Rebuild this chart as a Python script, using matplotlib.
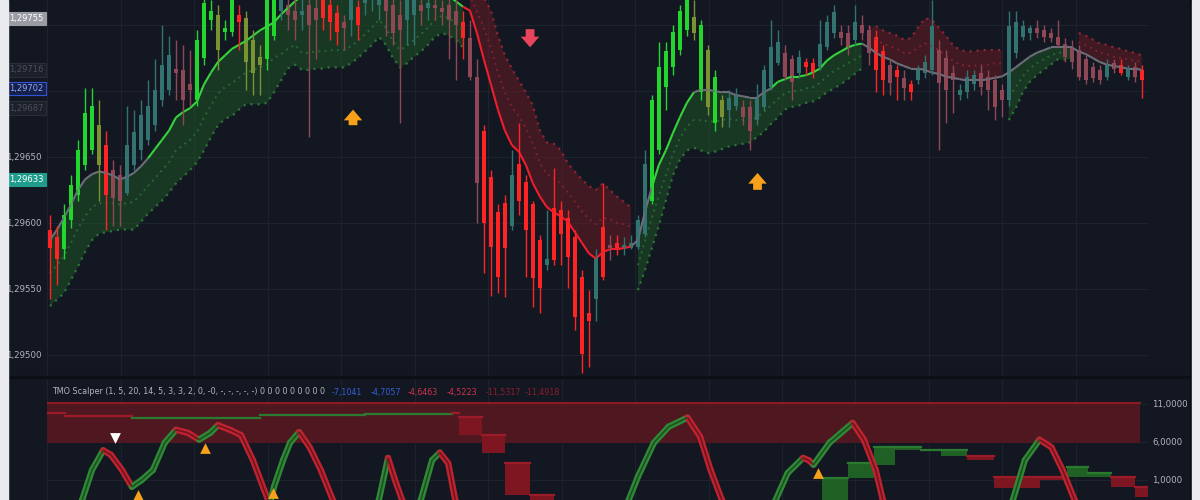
import numpy as np
import matplotlib.pyplot as plt
from matplotlib.collections import LineCollection
from matplotlib.patches import Rectangle

# prices are kept in 0.00001 steps above 1.29000 (so 650 -> 1.29650)
BASE = 1.29

open_pts = [
    595, 589, 580, 602, 621, 644, 655, 674, 659, 640,
    636, 623, 644, 655, 663, 674, 693, 701, 714, 716,
    705, 693, 725, 754, 758, 745, 745, 758, 722, 739,
    726, 724, 742, 761, 765, 761, 758, 765, 763, 769,
    765, 759, 752, 754, 764, 767, 769, 765, 769, 765,
    746, 754, 758, 765, 763, 765, 763, 765, 761, 752,
    740, 711, 670, 635, 608, 615, 598, 645, 631, 614,
    587, 568, 611, 610, 604, 589, 559, 532, 542, 597,
    583, 585, 580, 581, 582, 592, 617, 655, 703, 718,
    731, 746, 756, 750, 731, 711, 693, 686, 689, 688,
    688, 678, 688, 703, 721, 729, 724, 714, 722, 721,
    718, 733, 744, 745, 744, 739, 750, 746, 741, 730,
    720, 716, 710, 705, 708, 714, 716, 731, 725, 714,
    697, 699, 705, 714, 711, 708, 701, 693, 729, 741,
    744, 748, 746, 744, 741, 736, 733, 731, 724, 718,
    716, 711, 721, 720, 711, 718, 716]
close_pts = [
    581, 573, 606, 629, 655, 683, 689, 644, 621, 619,
    617, 659, 669, 682, 689, 701, 720, 727, 717, 693,
    701, 739, 767, 761, 731, 748, 769, 752, 755, 714,
    720, 769, 769, 773, 758, 754, 761, 750, 754, 755,
    752, 745, 748, 769, 750, 769, 773, 769, 761, 744,
    758, 769, 769, 761, 767, 763, 760, 754, 750, 740,
    711, 630, 600, 582, 559, 581, 636, 617, 595, 558,
    551, 573, 572, 592, 574, 529, 501, 526, 574, 559,
    581, 581, 583, 585, 602, 645, 693, 718, 730, 745,
    761, 769, 744, 699, 688, 676, 680, 695, 697, 680,
    670, 695, 716, 733, 737, 711, 707, 726, 718, 714,
    736, 752, 760, 740, 733, 752, 744, 729, 716, 708,
    706, 711, 702, 699, 716, 722, 749, 706, 701, 708,
    701, 711, 712, 703, 701, 688, 693, 749, 752, 749,
    748, 744, 741, 740, 735, 726, 722, 711, 708, 710,
    708, 720, 717, 714, 717, 711, 708]
high_pts = [
    606, 598, 614, 636, 663, 702, 702, 693, 670, 648,
    644, 689, 686, 693, 708, 724, 750, 742, 739, 735,
    731, 746, 777, 769, 765, 754, 777, 765, 761, 746,
    735, 777, 777, 780, 777, 769, 773, 773, 773, 777,
    773, 765, 758, 777, 769, 777, 780, 777, 777, 773,
    769, 777, 777, 773, 773, 773, 769, 773, 769, 761,
    754, 724, 674, 640, 614, 621, 655, 676, 636, 617,
    591, 610, 642, 617, 610, 595, 564, 549, 580, 630,
    591, 591, 589, 591, 606, 655, 697, 737, 737, 750,
    765, 773, 769, 754, 735, 716, 697, 701, 702, 693,
    693, 705, 720, 754, 746, 735, 727, 731, 725, 725,
    754, 758, 765, 750, 750, 765, 758, 750, 746, 735,
    724, 720, 716, 708, 720, 727, 769, 739, 731, 720,
    705, 716, 716, 720, 716, 712, 705, 761, 761, 754,
    750, 754, 750, 748, 754, 740, 739, 735, 727, 722,
    720, 724, 724, 724, 720, 722, 720]
low_pts = [
    542, 553, 573, 596, 617, 640, 652, 617, 595, 598,
    598, 621, 640, 648, 659, 670, 689, 697, 693, 674,
    689, 689, 720, 746, 716, 739, 742, 731, 701, 697,
    697, 716, 739, 754, 746, 739, 746, 665, 724, 746,
    739, 735, 731, 742, 739, 758, 761, 754, 742, 735,
    676, 735, 735, 750, 754, 754, 750, 724, 708, 724,
    708, 600, 562, 545, 547, 544, 595, 606, 559, 536,
    532, 564, 568, 568, 551, 519, 486, 491, 526, 557,
    572, 576, 576, 580, 580, 589, 614, 652, 686, 712,
    727, 742, 739, 693, 682, 670, 673, 673, 686, 674,
    655, 674, 686, 701, 720, 708, 693, 710, 712, 710,
    716, 731, 740, 735, 727, 735, 739, 720, 699, 697,
    697, 693, 693, 693, 705, 710, 712, 655, 676, 683,
    693, 695, 701, 697, 686, 678, 680, 689, 725, 739,
    739, 740, 737, 737, 733, 722, 717, 708, 705, 707,
    705, 708, 714, 712, 708, 707, 695]
# G bright bull, R bright bear, t muted teal, r muted red, o olive
candle_kind = ("RRGGGGGoRr" "rtttttttrr" "rGGGoGGRoo" "oGGtrrtrrR" "RRrtRtttrr"
               "rttrtrrrrR" "rrRRRRtRRR" "RtRRRRRRtR" "rRttttGGGG" "GGoGoGottr"
               "rttttrrtRR" "tttrrtrrRR" "rRrRtttrrr" "tttrrrrttt" "trrrrrrrrr"
               "rtrRtrR")

# trend band: base line, outer dotted edge, inner dotted line
mid_pts = [
    587, 595, 604, 614, 625, 633, 637, 639, 638, 636,
    633, 635, 638, 643, 649, 656, 663, 670, 680, 684,
    687, 692, 705, 714, 722, 727, 732, 735, 738, 742,
    746, 749, 752, 758, 763, 768, 772, 775, 778, 781,
    783, 785, 787, 789, 790, 791, 792, 792, 792, 791,
    790, 789, 787, 785, 782, 779, 776, 772, 768, 764,
    761, 744, 724, 705, 686, 670, 659, 654, 644, 630,
    620, 612, 608, 605, 601, 593, 585, 577, 573, 578,
    580, 580, 581, 582, 587, 608, 627, 644, 655, 668,
    680, 691, 699, 701, 701, 700, 699, 699, 697, 696,
    695, 695, 699, 702, 707, 709, 711, 711, 712, 714,
    717, 723, 727, 730, 733, 735, 736, 733, 729, 726,
    724, 721, 719, 717, 717, 716, 714, 713, 711, 710,
    709, 708, 708, 708, 709, 710, 711, 714, 718, 722,
    726, 729, 731, 733, 733, 733, 733, 730, 728, 725,
    722, 720, 719, 718, 717, 717, 716]
outer_pts = [
    537, 542, 547, 557, 567, 578, 587, 592, 593, 594,
    595, 595, 595, 601, 607, 612, 617, 623, 630, 635,
    640, 646, 655, 665, 674, 679, 681, 686, 690, 690,
    690, 691, 699, 708, 717, 720, 716, 716, 717, 717,
    718, 718, 718, 721, 725, 730, 735, 741, 735, 725,
    718, 721, 726, 730, 735, 741, 744, 742, 739, 733,
    785, 777, 771, 761, 742, 727, 717, 708, 699, 689,
    670, 661, 660, 655, 645, 639, 633, 628, 625, 630,
    625, 620, 616, 612, 549, 564, 581, 598, 617, 636,
    648, 655, 657, 655, 653, 654, 656, 658, 659, 660,
    661, 665, 669, 675, 680, 686, 688, 689, 691, 692,
    695, 699, 702, 705, 709, 713, 717, 748, 749, 746,
    744, 742, 739, 740, 748, 755, 754, 748, 742, 735,
    731, 730, 730, 731, 731, 731, 731, 678, 687, 699,
    707, 712, 716, 720, 724, 724, 724, 744, 742, 739,
    736, 735, 733, 732, 730, 729, 727]
inner_pts = [
    562, 568, 575, 585, 596, 605, 612, 615, 615, 615,
    614, 615, 616, 622, 628, 634, 640, 646, 655, 659,
    663, 669, 680, 689, 698, 703, 706, 710, 714, 716,
    718, 720, 725, 728, 732, 735, 729, 729, 730, 730,
    731, 731, 731, 734, 738, 743, 748, 754, 748, 738,
    731, 734, 739, 743, 748, 754, 757, 755, 752, 746,
    773, 760, 748, 733, 714, 699, 688, 681, 672, 660,
    645, 637, 634, 630, 623, 616, 609, 603, 599, 604,
    603, 600, 599, 597, 568, 586, 604, 621, 636, 652,
    664, 673, 678, 678, 677, 677, 678, 679, 678, 678,
    678, 680, 684, 689, 694, 698, 700, 700, 702, 703,
    706, 711, 715, 718, 721, 724, 727, 741, 739, 736,
    734, 732, 729, 729, 733, 736, 734, 731, 727, 723,
    720, 719, 719, 720, 720, 721, 721, 696, 703, 711,
    717, 721, 724, 727, 729, 729, 729, 737, 735, 732,
    729, 728, 726, 725, 724, 723, 722]
line_kind = ("nnnnnnnnnn" "nnnnnggggg" "gggggggggg" "gggggggggg" "gggggggggg"
             "gggggggggg" "rrrrrrrrrr" "rrrrrrrrrr" "rrrrnnnggg" "gggnnnnnnn"
             "nnnngggggg" "gggggggnnn" "nnnnnnnnnn" "nnnnnnnnnn" "nnnnnnnnnn"
             "nnnnnnn")
band_kind = ("GGGGGGGGGG" "GGGGGGGGGG" "GGGGGGGGGG" "GGGGGGGGGG" "GGGGGGGGGG"
             "GGGGGGGGGG" "RRRRRRRRRR" "RRRRRRRRRR" "RRRRGGGGGG" "GGGGGGGGGG"
             "GGGGGGGGGG" "GGGGGGGRRR" "RRRRRRRRRR" "RRRRRRRGGG" "GGGGGGGRRR"
             "RRRRRRR")

# signal arrows on the price panel: bar, tail, tip, colour
arrow_bar = [43.3, 68.6, 101.1]
arrow_tail = [672, 749, 623]
arrow_tip = [688, 731, 640]
arrow_col = ['#f7a11a', '#e8455c', '#f7a11a']

# price tags on the left scale
tag_val = [755, 716, 702, 687, 633]
tag_face = ['#9a9ca4', '#1c202b', '#16204a', '#1c202b', '#1f9c8c']
tag_edge = ['#9a9ca4', '#2a2e39', '#2f55d4', '#2a2e39', '#1f9c8c']
tag_text = ['#ffffff', '#4a4e5a', '#8fa9ff', '#4a4e5a', '#ffffff']

# TMO oscillator vertices (bar position, value)
osc_bar = [3.6, 4.6, 6.0, 7.6, 8.7, 10.3, 11.7, 13.1, 14.7, 16.4, 18.0, 19.7, 21.3, 22.9,
           24.0, 25.7, 27.3, 29.0, 30.6, 31.4, 32.0, 33.3, 34.3, 35.6, 37.1, 38.7, 40.4,
           42.1, 45.7, 47.0, 48.3, 49.3, 50.3, 51.7, 53.0, 54.6, 55.7, 56.9, 57.9, 59.3,
           81.4, 82.7, 84.0, 86.3, 88.4, 91.1, 92.9, 94.4, 96.0, 97.9, 102.6, 103.7, 105.4,
           107.6, 108.4, 109.1, 111.4, 114.7, 116.3, 118.0, 119.0, 120.7, 136.4, 137.6,
           139.3, 141.4, 143.1, 144.7, 146.4, 147.9, 156.9]
osc_val = [-4, -1.6, 2.3, 4.9, 4.3, 2.3, 0.1, 1.0, 2.3, 5.9, 7.6, 7.2, 6.3, 7.2,
           8.2, 7.6, 6.9, 3.6, -0.3, -2.2, 0.1, 3.6, 5.9, 7.3, 5.3, 2.3, -1.6,
           -5, -5, -1.6, 3.9, 1.0, -1.6, -4, -1.6, 3.6, 4.6, 3.2, -1.6, -5,
           -5, -1.6, 1.4, 5.9, 8.0, 9.2, 6.7, 2.3, -1.6, -5, -5, -1.6, 1.9,
           3.9, 3.6, 3.0, 5.9, 8.5, 6.3, 2.3, -1.6, -5, -5, -1.6,
           3.6, 6.3, 5.3, 2.3, -1.6, -4, -5]

# stepped slow ribbon: start bar, top, bottom, colour
slow_start = [-0.4, 2.1, 11.7, 30, 45, 57.4, 58.4, 61.7, 65.0, 68.6, 72.0, 110.3, 114.0,
              117.7, 120.7, 124.4, 127.3, 131.0, 134.9, 141.4, 145.3, 148.3, 151.6, 155.0]
slow_hi = [9.8, 9.4, 9.2, 9.5, 9.7, 9.8, 9.3, 6.9, 3.2, -1.0, -3, 1.3, 3.2,
           5.3, 5.3, 5.0, 4.9, 4.2, 1.4, 1.4, 2.7, 1.9, 1.4, 0.1]
slow_lo = [9.8, 9.4, 9.2, 9.5, 9.7, 9.8, 6.9, 4.5, -1.0, -4, -6, -3, 1.3,
           3.0, 4.9, 4.9, 4.2, 3.6, -0.1, 1.0, 1.4, 1.4, 0.1, -1.2]
slow_kind = "rrgggrrrrrrggggggrrrggrrr"

# markers on the oscillator
up_bar = [22.1, 12.6, 31.9, 109.7]
up_val = [5.2, -1.0, -0.7, 1.9]
down_bar = [9.3]
down_val = [6.5]

grid_bars = [-0.4, 10.1, 20.6, 31.1, 41.6, 52.1, 62.6, 73.1, 83.6, 94.1, 104.6, 115.1,
             125.6, 136.1, 146.6]

BG = '#131722'
GRID = '#1e222d'
candle_col = {'G': '#22d62e', 'R': '#ff2424', 't': '#33736f', 'r': '#8f4655', 'o': '#7b9233'}
line_col = {'g': '#36d43c', 'r': '#f01e2c', 'n': '#6b6e79'}

fig = plt.figure(figsize=(12, 5), dpi=100, facecolor=BG)
W, H = 1200, 500


def box(l, t, r, b):
    return [l / W, 1 - b / H, (r - l) / W, (b - t) / H]


ax = fig.add_axes(box(47, 0, 1148, 376))
ax2 = fig.add_axes(box(47, 378, 1148, 500), sharex=ax)
for a in (ax, ax2):
    a.set_facecolor(BG)
    for s in a.spines.values():
        s.set_visible(False)
    a.set_xticks(grid_bars)
    a.grid(True, color=GRID, lw=0.8)
    a.set_axisbelow(True)
    a.tick_params(length=0, labelbottom=False, colors='#b2b5be', labelsize=6.2)

n = len(close_pts)
x = np.arange(n)
o = np.array(open_pts, float)
c = np.array(close_pts, float)
hi = np.array(high_pts, float)
lo = np.array(low_pts, float)
mid = np.array(mid_pts, float)
outer = np.array(outer_pts, float)
inner = np.array(inner_pts, float)
band = np.array(list(band_kind))

# trend bands
g = band == 'G'
r = band == 'R'
ax.fill_between(x, outer, mid, where=g, color='#1d5a27', alpha=0.5, lw=0)
ax.fill_between(x, mid, outer, where=r, color='#6e1b24', alpha=0.5, lw=0)
for mask, col in ((g, '#2c7335'), (r, '#8c2533')):
    ax.plot(x, np.where(mask, outer, np.nan), ls=(0, (1, 2.2)), lw=1.6, color=col)
    ax.plot(x, np.where(mask, inner, np.nan), ls=(0, (1, 2.2)), lw=1.4, color=col, alpha=0.8)

pts = np.column_stack([x, mid])
segs = [pts[i:i + 2] for i in range(n - 1)]
ax.add_collection(LineCollection(segs, colors=[line_col[k] for k in line_kind[1:]], lw=1.5))

# candles
cols = [candle_col[k] for k in candle_kind]
ax.vlines(x, lo, hi, colors=cols, lw=1)
body_lo = np.minimum(o, c)
body_h = np.maximum(np.abs(c - o), 1.2)
ax.bar(x, body_h, bottom=body_lo, width=0.62, color=cols, lw=0)

for b, t0, t1, col in zip(arrow_bar, arrow_tail, arrow_tip, arrow_col):
    ax.annotate('', xy=(b, t1), xytext=(b, t0),
                arrowprops=dict(arrowstyle='simple,head_length=0.55,head_width=0.95,tail_width=0.45',
                                color=col, mutation_scale=14, lw=0))

ax.set_xlim(-0.43, 156.9)
ax.set_ylim(484, 769)
price_ticks = [500, 550, 600, 650, 700, 750]
ax.set_yticks(price_ticks)
# the 1,29700 and 1,29750 labels sit under the price tags
ax.set_yticklabels([f'{BASE + v * 1e-5:.5f}'.replace('.', ',') if v < 700 else ''
                    for v in price_ticks])
ax.tick_params(axis='y', pad=4, labelcolor='#b2b5be')

for v, fc, ec, tc in zip(tag_val, tag_face, tag_edge, tag_text):
    ax.annotate(f'{BASE + v * 1e-5:.5f}'.replace('.', ','), xy=(0, v),
                xycoords=('axes fraction', 'data'), xytext=(-2.5, 0), textcoords='offset points',
                ha='right', va='center', fontsize=6.0, color=tc, annotation_clip=False, zorder=10,
                bbox=dict(boxstyle='square,pad=0.28', fc=fc, ec=ec, lw=0.8))

# lower panel: TMO scalper
ax2.fill_between([-0.43, 155.7], 5.9, 11.1, color='#4f1820', lw=0, zorder=1)
ax2.plot([-0.43, 155.7], [11.1, 11.1], color='#8c1a26', lw=1.5, zorder=1)

edges = slow_start + [156.9]
for i, k in enumerate(slow_kind[:len(slow_start)]):
    x0, x1 = edges[i], edges[i + 1]
    col = '#7e1621' if k == 'r' else '#1f6124'
    edge = '#9b1b28' if k == 'r' else '#2a7a2f'
    if slow_hi[i] - slow_lo[i] > 0.05:
        ax2.fill_between([x0, x1], slow_lo[i], slow_hi[i], color=col, lw=0, zorder=2)
    ax2.plot([x0, x1], [slow_hi[i], slow_hi[i]], color=edge, lw=1.6, zorder=2)

ob = np.array(osc_bar)
ov = np.array(osc_val)
opts = np.column_stack([ob, ov])
osegs = [opts[i:i + 2] for i in range(len(ob) - 1)]
rising = np.diff(ov) > 0
ax2.add_collection(LineCollection(osegs, colors=np.where(rising, '#2f8a35', '#c0232f'),
                                  lw=4.5, zorder=3, capstyle='round', joinstyle='round'))
ax2.add_collection(LineCollection(osegs, colors=np.where(rising, '#1d4f22', '#6e1420'),
                                  lw=1.2, zorder=4))

ax2.scatter(up_bar, up_val, marker='^', s=60, color='#f7a11a', zorder=5, lw=0)
ax2.scatter(down_bar, down_val, marker='v', s=60, color='#ffffff', zorder=5, lw=0)

ax2.set_ylim(-1.63, 14.4)
ax2.yaxis.tick_right()
ax2.set_yticks([1, 6, 11])
ax2.set_yticklabels(['1,0000', '6,0000', '11,0000'])
ax2.tick_params(axis='y', pad=3, labelcolor='#b2b5be')

label_parts = [
    ('TMO Scalper (1, 5, 20, 14, 5, 3, 3, 2, 0, -0, -, -, -, -, -) 0 0 0 0 0 0 0 0 0', 52, '#b2b5be'),
    ('-7,1041', 332, '#2f62d8'), ('-4,7057', 371, '#2f62d8'),
    ('-4,6463', 408, '#d23249'), ('-4,5223', 447, '#d23249'),
    ('-11,5317', 486, '#8e1c2a'), ('-11,4918', 525, '#8e1c2a')]
for txt, px, col in label_parts:
    fig.text(px / W, 1 - 392 / H, txt, fontsize=5.8, color=col, va='center', ha='left')

# frame pieces: separator and light page edges
fig.patches.append(Rectangle((0, 1 - 378 / H), 1, 2 / H, transform=fig.transFigure,
                             color='#0c0f16', zorder=0))
fig.patches.append(Rectangle((0, 0), 8 / W, 1, transform=fig.transFigure, color='#e9ebef'))
fig.patches.append(Rectangle((1190 / W, 0), 2 / W, 1, transform=fig.transFigure, color='#0a0c12'))
fig.patches.append(Rectangle((1192 / W, 0), 8 / W, 1, transform=fig.transFigure, color='#e9ebef'))

fig.savefig('out.png', dpi=100, facecolor=BG)
